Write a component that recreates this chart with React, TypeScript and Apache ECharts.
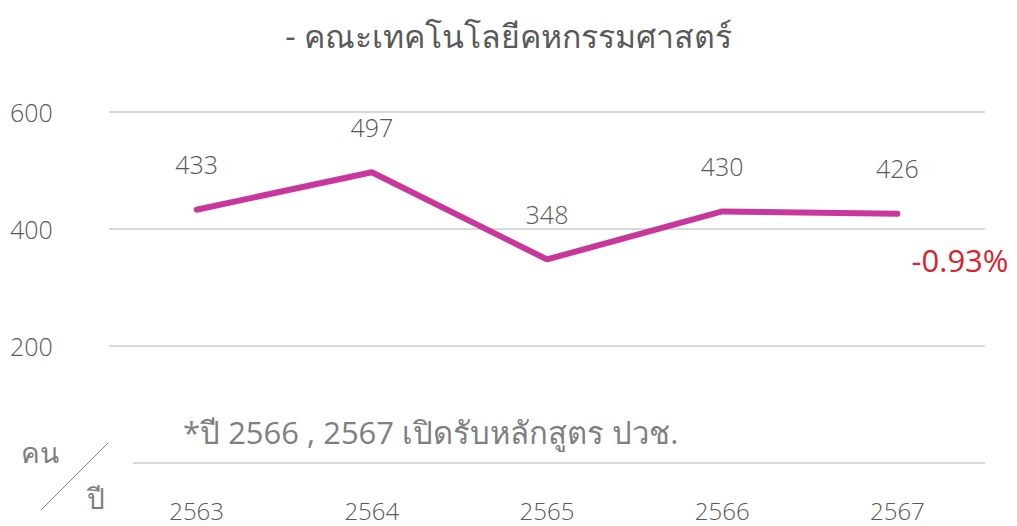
import React, { useEffect, useRef } from "react";
import * as echarts from "echarts";

const categories = ["2563", "2564", "2565", "2566", "2567"];
const students = [433, 497, 348, 430, 426];
const yTicks = [0, 200, 400, 600];
const titleText = "- คณะเทคโนโลยีคหกรรมศาสตร์";
const changeText = "-0.93%";
const noteText = "*ปี 2566 , 2567 เปิดรับหลักสูตร ปวช.";
const unitY = "คน";
const unitX = "ปี";

export default function App() {
  const ref = useRef<HTMLDivElement>(null);
  useEffect(() => {
    if (!ref.current) return;
    const chart = echarts.init(ref.current, null, { renderer: "svg" });
    const font = "'Open Sans', 'Noto Sans', sans-serif";
    chart.setOption({
      animation: false,
      backgroundColor: "#ffffff",
      title: {
        text: titleText,
        left: "center",
        top: 14,
        textStyle: { fontSize: 32, fontWeight: "normal", color: "#595959", fontFamily: font },
      },
      grid: { left: 109, right: 32, top: 112, bottom: 63 },
      xAxis: {
        type: "category",
        data: categories,
        axisLine: { show: false },
        axisTick: { show: false },
        axisLabel: { margin: 36, fontSize: 24, lineHeight: 22, color: "#595959", fontWeight: 300, fontFamily: font },
      },
      yAxis: {
        type: "value",
        min: yTicks[0],
        max: yTicks[yTicks.length - 1],
        interval: 200,
        axisLine: { show: false },
        axisTick: { show: false },
        axisLabel: {
          align: "left",
          margin: 99,
          fontSize: 25,
          color: "#595959",
          fontWeight: 300,
          fontFamily: font,
          verticalAlign: "middle",
          padding: [0, 0, 12, 0],
          formatter: (v: number) => (v === yTicks[0] ? "" : String(v)),
        },
        splitLine: { lineStyle: { color: "#d9d9d9", width: 2 } },
      },
      series: [
        {
          type: "line",
          data: students,
          symbol: "circle",
          symbolSize: 0.1,
          itemStyle: { color: "#C9379D" },
          lineStyle: { color: "#C9379D", width: 6, cap: "round" },
          label: {
            show: true,
            position: "top",
            distance: 33,
            fontSize: 25,
            color: "#595959",
            fontWeight: 300,
            fontFamily: font,
          },
        },
      ],
      graphic: [
        { type: "rect", shape: { x: 100, y: 458, width: 33, height: 10 }, style: { fill: "#ffffff" }, z: 100 },
        {
          type: "text",
          x: 960,
          y: 260,
          style: { text: changeText, fontSize: 31, fill: "#D9232E", align: "center", verticalAlign: "middle", fontFamily: font },
          z: 100,
        },
        {
          type: "text",
          x: 183,
          y: 432,
          style: { text: noteText, fontSize: 31, fill: "#7f7f7f", align: "left", verticalAlign: "middle", fontFamily: font },
          z: 100,
        },
        {
          type: "text",
          x: 40,
          y: 452,
          style: { text: unitY, fontSize: 28, fill: "#7f7f7f", align: "center", verticalAlign: "middle", fontFamily: font },
        },
        {
          type: "text",
          x: 96,
          y: 498,
          style: { text: unitX, fontSize: 28, fill: "#7f7f7f", align: "center", verticalAlign: "middle", fontFamily: font },
        },
        {
          type: "line",
          shape: { x1: 41, y1: 510, x2: 108, y2: 443 },
          style: { stroke: "#7f7f7f", lineWidth: 1 },
        },
      ],
    });
    return () => chart.dispose();
  }, []);
  return <div ref={ref} style={{ width: 1017, height: 526, position: "absolute", left: 0, top: 0 }} />;
}
